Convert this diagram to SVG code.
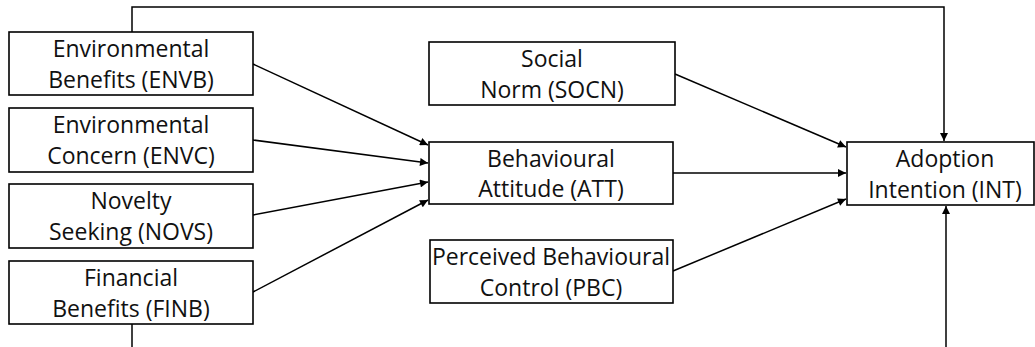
<svg xmlns="http://www.w3.org/2000/svg" width="1035" height="347" viewBox="0 0 1035 347">
<style>
.box{fill:#fff;stroke:#000;stroke-width:1.6}
.t{font-family:"Open Sans","Liberation Sans",sans-serif;font-size:23px;fill:#111;text-anchor:middle}
.c{fill:none;stroke:#000;stroke-width:1.5}
</style>
<defs>
<marker id="ah" viewBox="0 0 10 10" refX="10" refY="5" markerWidth="9" markerHeight="8" markerUnits="userSpaceOnUse" orient="auto">
<path d="M0,0 L10,5 L0,10 z" fill="#000"/>
</marker>
</defs>
<rect width="1035" height="347" fill="#fff"/>
<g id="connectors">
<path class="c" d="M132,32 V7 H944 V141" marker-end="url(#ah)"/>
<path class="c" d="M132,324 V347"/>
<path class="c" d="M946,347 V206" marker-end="url(#ah)"/>
<path class="c" d="M253,64 L428,145" marker-end="url(#ah)"/>
<path class="c" d="M253,140 L428,163" marker-end="url(#ah)"/>
<path class="c" d="M253,215 L428,182" marker-end="url(#ah)"/>
<path class="c" d="M253,292 L428,200" marker-end="url(#ah)"/>
<path class="c" d="M675,74 L846,147" marker-end="url(#ah)"/>
<path class="c" d="M673,173 L846,173" marker-end="url(#ah)"/>
<path class="c" d="M673,271 L846,199" marker-end="url(#ah)"/>
</g>
<g id="ENVB"><rect class="box" x="9" y="32" width="244" height="63"/><text class="t" x="131" y="57">Environmental</text><text class="t" x="131" y="88">Benefits (ENVB)</text></g>
<g id="ENVC"><rect class="box" x="9" y="108" width="244" height="64"/><text class="t" x="131" y="133">Environmental</text><text class="t" x="131" y="164">Concern (ENVC)</text></g>
<g id="NOVS"><rect class="box" x="9" y="184" width="244" height="64"/><text class="t" x="131" y="209">Novelty</text><text class="t" x="131" y="240">Seeking (NOVS)</text></g>
<g id="FINB"><rect class="box" x="9" y="261" width="244" height="63"/><text class="t" x="131" y="286">Financial</text><text class="t" x="131" y="317">Benefits (FINB)</text></g>
<g id="SOCN"><rect class="box" x="429" y="42" width="246" height="63"/><text class="t" x="552" y="67">Social</text><text class="t" x="552" y="98">Norm (SOCN)</text></g>
<g id="ATT"><rect class="box" x="429" y="142" width="244" height="62"/><text class="t" x="551" y="167">Behavioural</text><text class="t" x="551" y="197">Attitude (ATT)</text></g>
<g id="PBC"><rect class="box" x="430" y="240" width="243" height="63"/><text class="t" x="551" y="265">Perceived Behavioural</text><text class="t" x="551" y="296">Control (PBC)</text></g>
<g id="INT"><rect class="box" x="847" y="142" width="187" height="63"/><text class="t" x="945" y="167">Adoption</text><text class="t" x="945" y="198">Intention (INT)</text></g>
</svg>
